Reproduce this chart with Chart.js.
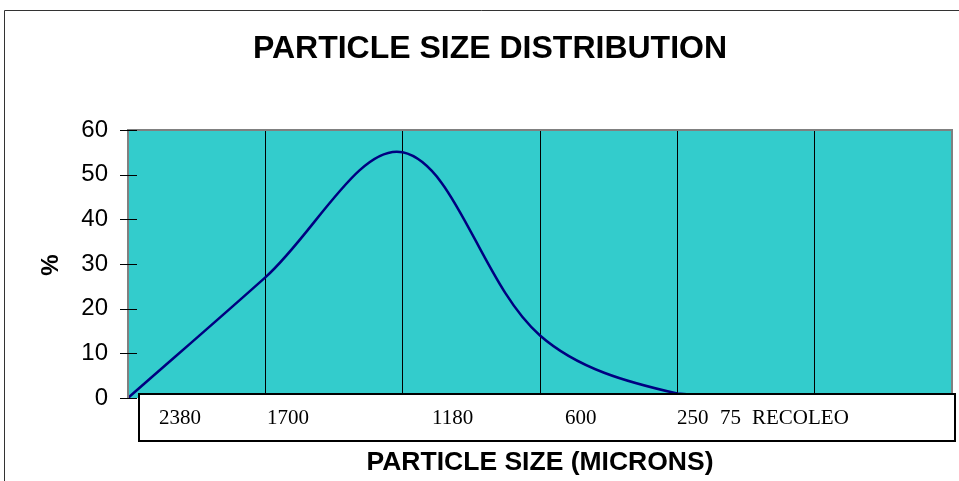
<!DOCTYPE html>
<html>
<head>
<meta charset="utf-8">
<title>Particle size distribution</title>
<script src="https://cdn.jsdelivr.net/npm/chart.js@4.4.1/dist/chart.umd.min.js"></script>
<style>
  html, body { margin: 0; padding: 0; background: #ffffff; }
  #chart { display: block; }
</style>
</head>
<body>
<canvas id="chart" width="959" height="481"></canvas>
<script>
(function () {
  'use strict';

  // data
  const CATEGORIES = ['2380', '1700', '1180', '600', '250', '75', 'RECOLEO'];
  const PERCENT = [0, 27, 55, 14, 1, 0, 0];
  const Y_TICKS = [0, 10, 20, 30, 40, 50, 60];

  // text box under the plot (it is a separate text box in the original)
  const BOX_LABELS = ['2380', '1700', '1180', '600', '250', '75', 'RECOLEO'];
  const BOX_LABEL_X = [159, 267, 432, 565, 677, 720, 752];

  const SANS = '"Liberation Sans", Arial, Helvetica, sans-serif';
  const SERIF = '"Liberation Serif", "Times New Roman", serif';
  const PLOT_BG = '#33cccc';
  const LINE = '#000080';

  const decor = {
    id: 'decor',
    beforeDraw(chart) {
      const { ctx, chartArea: a } = chart;
      ctx.save();
      ctx.fillStyle = PLOT_BG;
      ctx.fillRect(a.left, a.top, a.right - a.left, a.bottom - a.top);
      ctx.restore();
    },
    afterDatasetsDraw(chart) {
      const { ctx, chartArea: a } = chart;
      const y = chart.scales.y;
      ctx.save();

      // plot frame
      ctx.strokeStyle = '#808080';
      ctx.lineWidth = 2;
      ctx.beginPath();
      ctx.moveTo(a.left, a.bottom);
      ctx.lineTo(a.left, a.top);
      ctx.lineTo(a.right, a.top);
      ctx.lineTo(a.right, a.bottom);
      ctx.stroke();

      // tick marks crossing the y axis
      ctx.strokeStyle = '#000';
      ctx.lineWidth = 1;
      Y_TICKS.forEach((v) => {
        const py = Math.round(y.getPixelForValue(v)) + 0.5;
        ctx.beginPath();
        ctx.moveTo(a.left - 8, py);
        ctx.lineTo(a.left + 9, py);
        ctx.stroke();
      });

      // label box
      ctx.fillStyle = '#fff';
      ctx.fillRect(138, 394, 817, 47);
      ctx.strokeStyle = '#000';
      ctx.lineWidth = 2;
      ctx.strokeRect(139, 394, 816, 47);

      ctx.fillStyle = '#000';
      ctx.font = '21px ' + SERIF;
      ctx.textAlign = 'left';
      ctx.textBaseline = 'alphabetic';
      BOX_LABELS.forEach((t, i) => ctx.fillText(t, BOX_LABEL_X[i], 424));

      // titles
      ctx.textAlign = 'center';
      ctx.font = 'bold 32px ' + SANS;
      ctx.fillText('PARTICLE SIZE DISTRIBUTION', 490, 58);
      ctx.font = 'bold 26.5px ' + SANS;
      ctx.fillText('PARTICLE SIZE (MICRONS)', 540, 470);

      ctx.save();
      ctx.translate(51, 265);
      ctx.rotate(-Math.PI / 2);
      ctx.textBaseline = 'middle';
      ctx.font = 'bold 24px ' + SANS;
      ctx.fillText('%', 0, 0);
      ctx.restore();

      // outer frame
      ctx.strokeStyle = '#333';
      ctx.lineWidth = 1;
      ctx.beginPath();
      ctx.moveTo(4.5, 481);
      ctx.lineTo(4.5, 10.5);
      ctx.lineTo(959, 10.5);
      ctx.stroke();

      ctx.restore();
    }
  };

  new Chart(document.getElementById('chart').getContext('2d'), {
    type: 'line',
    data: {
      labels: CATEGORIES,
      datasets: [{
        data: PERCENT,
        borderColor: LINE,
        borderWidth: 2.5,
        pointRadius: 0,
        fill: false,
        tension: 0.35
      }]
    },
    options: {
      responsive: false,
      animation: false,
      layout: { padding: { top: 130, right: 7, bottom: 83, left: 0 } },
      scales: {
        x: {
          type: 'category',
          offset: false,
          ticks: { display: false },
          border: { display: false },
          grid: {
            drawTicks: false,
            lineWidth: 1,
            color: (c) => (c.index === 0 || c.index === CATEGORIES.length - 1) ? 'rgba(0,0,0,0)' : '#000'
          },
          afterFit: (s) => { s.height = 0; }
        },
        y: {
          min: 0,
          max: 60,
          border: { display: false },
          grid: { display: false, drawTicks: false },
          ticks: {
            stepSize: 10,
            padding: 20,
            color: '#000',
            font: { family: SANS, size: 24 }
          },
          afterFit: (s) => { s.width = 128; }
        }
      },
      plugins: {
        legend: { display: false },
        tooltip: { enabled: false }
      }
    },
    plugins: [decor]
  });
})();
</script>
</body>
</html>
